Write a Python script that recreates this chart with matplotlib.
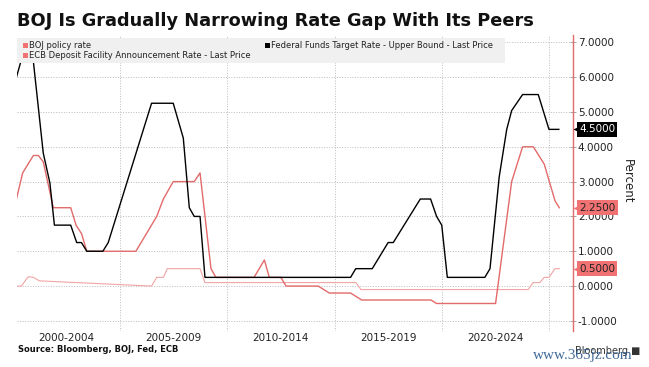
import matplotlib
matplotlib.use('Agg')
from matplotlib import pyplot as plt
from matplotlib.patches import Rectangle
from matplotlib.transforms import ScaledTranslation
import numpy as np

# breakpoints (decimal year, percent)
fed_years = [2000.17, 2000.4, 2000.95, 2001.42, 2001.73, 2001.94, 2002.7, 2002.98, 2003.2,
             2003.45, 2004.2, 2004.45, 2006.47, 2007.48, 2007.95, 2008.23, 2008.46, 2008.73,
             2008.96, 2015.75, 2015.99, 2016.76, 2017.5, 2017.74, 2019.0, 2019.48, 2019.76,
             2020.0, 2020.26, 2022.01, 2022.25, 2022.68, 2023.03, 2023.26, 2023.77, 2024.5,
             2025.0, 2025.46]
fed_rates = [6.0, 6.5, 6.5, 3.82, 2.96, 1.75, 1.75, 1.25, 1.25,
             1.0, 1.0, 1.25, 5.25, 5.25, 4.25, 2.25, 2.0, 2.0,
             0.25, 0.25, 0.5, 0.5, 1.25, 1.25, 2.5, 2.5, 2.0,
             1.75, 0.25, 0.25, 0.5, 3.14, 4.5, 5.04, 5.5, 5.5,
             4.5, 4.5]

ecb_years = [2000.17, 2000.46, 2000.96, 2001.19, 2001.42, 2001.89, 2002.7, 2002.95, 2003.21,
             2003.45, 2005.74, 2006.71, 2007.02, 2007.48, 2008.46, 2008.73, 2009.24, 2009.47,
             2011.25, 2011.73, 2011.96, 2012.5, 2012.74, 2014.24, 2014.76, 2015.75, 2016.27,
             2019.5, 2019.76, 2022.51, 2023.26, 2023.77, 2024.27, 2024.78, 2025.28, 2025.48]
ecb_rates = [2.5, 3.25, 3.75, 3.75, 3.57, 2.25, 2.25, 1.75, 1.5,
             1.0, 1.0, 2.0, 2.5, 3.0, 3.0, 3.25, 0.5, 0.25,
             0.25, 0.75, 0.25, 0.25, 0.0, 0.0, -0.2, -0.2, -0.4,
             -0.4, -0.5, -0.5, 3.0, 4.0, 4.0, 3.5, 2.45, 2.25]

boj_years = [2000.17, 2000.4, 2000.72, 2000.96, 2001.24, 2006.47, 2006.71, 2007.02, 2007.2,
             2008.73, 2008.96, 2016.0, 2016.23, 2024.03, 2024.26, 2024.57, 2024.78, 2025.0,
             2025.28, 2025.48]
boj_rates = [0.0, 0.0, 0.27, 0.25, 0.15, 0.0, 0.25, 0.25, 0.5,
             0.5, 0.1, 0.1, -0.1, -0.1, 0.1, 0.1, 0.25, 0.25,
             0.5, 0.5]

period_labels = ['2000-2004', '2005-2009', '2010-2014', '2015-2019', '2020-2024']
period_mids = [2002.5, 2007.5, 2012.5, 2017.5, 2022.5]
period_edges = [2005, 2010, 2015, 2020, 2025]
y_ticks = [-1, 0, 1, 2, 3, 4, 5, 6, 7]

W, H = 649, 367
RED = '#e36a6a'
TAG = '#f07272'


def fx(px):
    return px / W


def fy(py):
    return 1 - py / H


fig = plt.figure(figsize=(W / 100, H / 100), dpi=100)
ax = fig.add_axes([fx(17), fy(331), (573 - 17) / W, (331 - 35) / H])

ax.plot(boj_years, boj_rates, color='#f2a4a4', lw=0.8, zorder=3)
ax.plot(ecb_years, ecb_rates, color=RED, lw=1.0, zorder=4)
ax.plot(fed_years, fed_rates, color='black', lw=1.0, zorder=5)

ax.set_xlim(2000.196, 2026.12)
ax.set_ylim(-1.29, 7.21)

for s in ['left', 'top', 'bottom']:
    ax.spines[s].set_visible(False)
ax.spines['right'].set_color(RED)
ax.spines['right'].set_linewidth(1.0)

ax.yaxis.tick_right()
ax.set_yticks(y_ticks)
ax.set_yticklabels([f'{v:.4f}' for v in y_ticks])
ax.tick_params(axis='y', direction='inout', length=5, width=0.6, color='#999999',
               pad=1, labelsize=7.5, labelcolor='#222222')

ax.set_xticks(period_edges)
ax.set_xticklabels([])
ax.set_xticks(period_mids, minor=True)
ax.set_xticklabels(period_labels, minor=True)
ax.tick_params(axis='x', which='both', length=0, pad=1.5, labelsize=7.5, labelcolor='#222222')

ax.grid(True, axis='both', linestyle=':', color='#bbbbbb', lw=0.7)
ax.set_axisbelow(True)

# last value tags
tags = [(fed_rates[-1], 'black', 'white'),
        (ecb_rates[-1], TAG, '#222222'),
        (boj_rates[-1], TAG, '#222222')]
ytrans = ax.get_yaxis_transform()
for val, fc, tc in tags:
    ax.annotate(f'{val:.4f}', xy=(1, val), xycoords=ytrans, xytext=(6, 0),
                textcoords='offset pixels', ha='left', va='center', fontsize=7.5,
                color=tc, zorder=10, annotation_clip=False,
                bbox=dict(boxstyle='square,pad=0.22', fc=fc, ec='none'))
    ax.plot([1.0], [val], marker='<', ms=7.2, color=fc, mec='none', clip_on=False, zorder=9,
            transform=ytrans + ScaledTranslation(5 / 100, 0, fig.dpi_scale_trans))

fig.text(fx(627), fy(181), 'Percent', rotation=270, ha='center', va='center', fontsize=8.5,
         color='#222222')

# title
fig.text(fx(17), fy(21), 'BOJ Is Gradually Narrowing Rate Gap With Its Peers',
         fontsize=12.8, weight='bold', va='center', ha='left', color='#111111')

# legend box
fig.add_artist(Rectangle((fx(17), fy(63)), (505 - 17) / W, (63 - 38) / H,
                         transform=fig.transFigure, fc='#f0f0f0', ec='none', zorder=5))
legend_items = [('BOJ policy rate', TAG, 23, 45.5),
                ('ECB Deposit Facility Announcement Rate - Last Price', TAG, 23, 55.5),
                ('Federal Funds Target Rate - Upper Bound - Last Price', 'black', 265, 45.5)]
for label, col, px, py in legend_items:
    fig.add_artist(Rectangle((fx(px), fy(py + 2.5)), 5 / W, 5 / H,
                             transform=fig.transFigure, fc=col, ec='none', zorder=6))
    fig.text(fx(px + 6), fy(py), label, fontsize=6, va='center', ha='left',
             color='#222222', zorder=7)

# footer
fig.text(fx(18), fy(350), 'Source: Bloomberg, BOJ, Fed, ECB', fontsize=6, weight='bold',
         va='center', ha='left', color='#111111')
fig.text(fx(640), fy(351), 'Bloomberg \u25a0', fontsize=7, va='center', ha='right',
         color='#333333')
fig.text(fx(583), fy(356), 'www.365jz.com', fontsize=11, family='Liberation Serif',
         va='center', ha='center', color='#2d5a8e', alpha=0.9)

fig.savefig('out.png', dpi=100)
